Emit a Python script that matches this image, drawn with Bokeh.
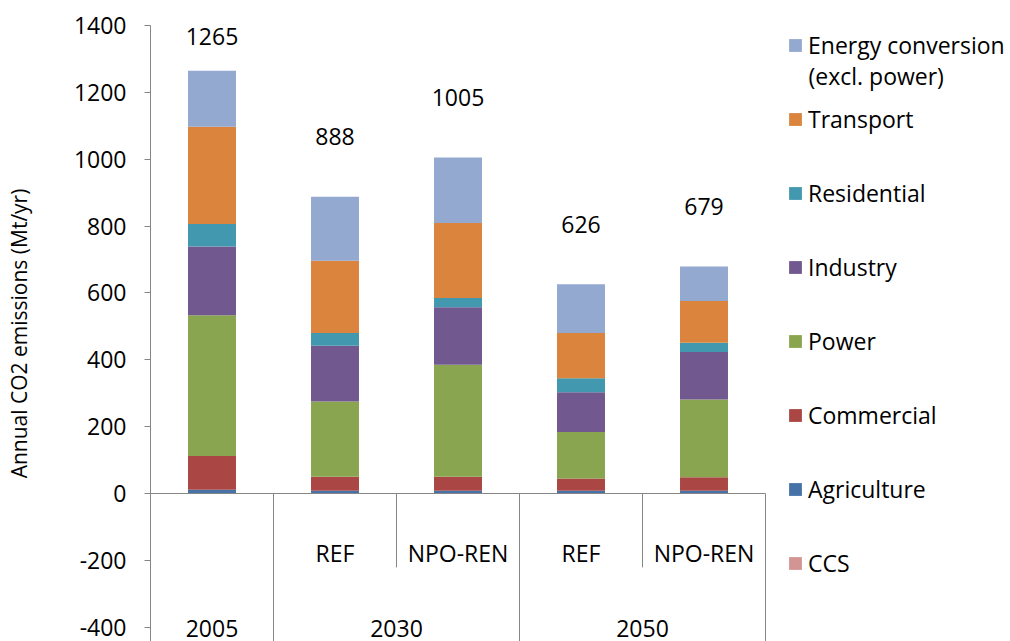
from bokeh.plotting import figure
from bokeh.models import (ColumnDataSource, Range1d, SingleIntervalTicker, Legend,
                          LegendItem, Label, PrintfTickFormatter)
from bokeh.core.properties import value
from bokeh.embed import file_html
from bokeh.resources import INLINE

# ---------------- data ----------------
years = ["2005", "2030", "2030", "2050", "2050"]
scenarios = ["", "REF", "NPO-REN", "REF", "NPO-REN"]
totals = [1265, 888, 1005, 626, 679]

ccs = [0, 0, 0, 0, 0]
agriculture = [11, 8, 8, 8, 8]
commercial = [101, 42, 42, 37, 41]
power = [421, 225, 335, 139, 232]
industry = [206, 167, 172, 119, 142]
residential = [67, 38, 28, 42, 28]
transport = [291, 216, 224, 135, 125]
energy_conversion = [168, 192, 196, 146, 103]

series_names = ["CCS", "Agriculture", "Commercial", "Power", "Industry",
                "Residential", "Transport", "Energy conversion"]
series_values = [ccs, agriculture, commercial, power, industry,
                 residential, transport, energy_conversion]
colors = ["#D39593", "#4572A7", "#AA4744", "#8AA54F", "#71588F",
          "#4298AE", "#DB843D", "#94A9D0"]

FONT = value("Open Sans")
AXIS_GREY = "#868686"

n = len(years)
xc = [i + 0.5 for i in range(n)]
keys = ["s%d" % i for i in range(len(series_names))]
data = {"x": xc}
for k, v in zip(keys, series_values):
    data[k] = v
source = ColumnDataSource(data)

p = figure(width=1010, height=641, output_backend="svg", toolbar_location=None,
           x_range=Range1d(0, 860 / 123.0), y_range=Range1d(-442.7, 1400),
           x_axis_location=None, min_border_left=150, min_border_right=0,
           min_border_top=25, min_border_bottom=0)
p.outline_line_color = None
p.grid.visible = False
p.background_fill_color = "white"
p.border_fill_color = "white"

renderers = p.vbar_stack(keys, x="x", width=0.39, source=source,
                         color=colors, line_color=None)

# y axis
ax = p.yaxis[0]
ax.ticker = SingleIntervalTicker(interval=200)
ax.formatter = PrintfTickFormatter(format="%d")
ax.axis_line_color = AXIS_GREY
ax.major_tick_line_color = AXIS_GREY
ax.major_tick_out = 6
ax.major_tick_in = 0
ax.minor_tick_line_color = None
ax.major_label_text_font = "Open Sans"
ax.major_label_text_font_size = "23px"
ax.major_label_text_color = "black"
ax.major_label_standoff = 18
ax.axis_label = "Annual CO2 emissions (Mt/yr)"
ax.axis_label_text_font = "Open Sans"
ax.axis_label_text_font_size = "21px"
ax.axis_label_text_font_style = "normal"
ax.axis_label_text_color = "black"
ax.axis_label_standoff = 38

# category "axis" drawn inside the plot below zero
bottom = p.y_range.start
p.segment(x0=[0], y0=[0], x1=[n], y1=[0], line_color=AXIS_GREY, line_width=1)
long_x, short_x = [], []
for i in range(1, n + 1):
    if i == n or years[i] != years[i - 1]:
        long_x.append(i)
    else:
        short_x.append(i)
p.segment(x0=long_x, y0=[0] * len(long_x), x1=long_x, y1=[bottom] * len(long_x),
          line_color=AXIS_GREY, line_width=1)
p.segment(x0=short_x, y0=[0] * len(short_x), x1=short_x, y1=[-221] * len(short_x),
          line_color=AXIS_GREY, line_width=1)

# scenario labels
sc_x = [xc[i] for i in range(n) if scenarios[i]]
sc_t = [s for s in scenarios if s]
p.text(x=sc_x, y=[-179] * len(sc_x), text=sc_t, text_align="center",
       text_baseline="middle", text_font=FONT, text_font_size="23px",
       text_color="black")

# year labels (centre of each group)
groups = []
for i, yv in enumerate(years):
    if groups and groups[-1][0] == yv:
        groups[-1][1].append(xc[i])
    else:
        groups.append([yv, [xc[i]]])
gx = [sum(g[1]) / len(g[1]) for g in groups]
gt = [g[0] for g in groups]
p.text(x=gx, y=[-404] * len(gx), text=gt, text_align="center",
       text_baseline="middle", text_font=FONT, text_font_size="23px",
       text_color="black")

# total labels
label_y = [min(t + 180, 1367) for t in totals]
p.text(x=xc, y=label_y, text=[str(t) for t in totals], text_align="center",
       text_baseline="middle", text_font=FONT, text_font_size="23px",
       text_color="black")

# legend
items = []
for name, r in reversed(list(zip(series_names, renderers))):
    items.append(LegendItem(label=name, renderers=[r]))
legend = Legend(items=items, location=(637, 62), orientation="vertical",
                glyph_width=16, glyph_height=16, label_height=32, spacing=42,
                label_standoff=5, padding=0, margin=0,
                label_text_font="Open Sans", label_text_font_size="23px",
                label_text_color="black", border_line_color=None,
                background_fill_alpha=0)
p.add_layout(legend)
p.add_layout(Label(x=658, y=566, x_units="screen", y_units="screen",
                   text="(excl. power)", text_font="Open Sans",
                   text_font_size="23px", text_baseline="middle",
                   text_align="left", text_color="black"))

open("out.html", "w").write(file_html(p, INLINE))
